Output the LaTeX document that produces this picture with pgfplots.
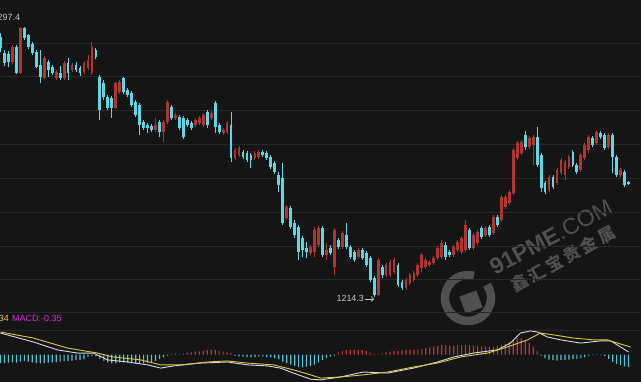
\documentclass[border=0pt]{standalone}
\usepackage{fontspec}
\setmainfont{Liberation Sans}
\newfontfamily\cjk{Noto Sans CJK SC}
\usepackage{pgfplots}
\pgfplotsset{compat=1.18}
\usepackage{pgfplotstable}
\usetikzlibrary{arrows.meta}

\definecolor{bg}{RGB}{21,21,21}
\definecolor{gridc}{RGB}{40,40,40}
\definecolor{upc}{RGB}{178,52,50}
\definecolor{dnc}{RGB}{96,214,226}
\definecolor{hup}{RGB}{190,52,52}
\definecolor{hdn}{RGB}{86,196,208}
\definecolor{difc}{RGB}{215,215,232}
\definecolor{deac}{RGB}{214,204,64}
\definecolor{macdc}{RGB}{214,40,214}
\definecolor{wm}{RGB}{80,80,80}
\definecolor{lbl}{RGB}{200,200,200}

% up (red) candles: x o h l c
\pgfplotstableread{
x o h l c
3 1286.6 1291.9 1286.0 1291.2
5 1283.2 1297.4 1282.9 1297.1
11 1281.7 1288.5 1281.4 1287.9
14 1281.7 1284.2 1281.1 1283.5
16 1281.7 1286.9 1281.1 1286.3
18 1284.2 1286.3 1283.5 1285.7
21 1283.5 1286.9 1282.9 1286.3
22 1284.8 1288.8 1284.2 1287.2
23 1283.2 1292.8 1282.6 1291.2
29 1272.5 1280.5 1272.2 1280.2
30 1277.4 1281.1 1276.8 1280.5
39 1265.7 1269.4 1265.1 1267.2
41 1265.1 1268.8 1262.0 1268.2
42 1268.2 1274.9 1267.5 1274.3
44 1269.4 1270.9 1268.8 1270.3
49 1267.2 1269.4 1266.6 1268.8
50 1267.9 1270.0 1267.2 1269.4
51 1267.2 1270.9 1266.6 1270.3
53 1269.4 1271.5 1268.8 1270.9
56 1264.8 1266.3 1264.2 1265.7
57 1265.1 1268.5 1264.5 1267.9
59 1257.1 1260.2 1256.5 1259.5
60 1258.0 1260.8 1257.4 1260.2
64 1257.1 1259.2 1256.5 1258.6
65 1257.4 1259.5 1256.8 1258.9
72 1238.6 1242.6 1238.0 1242.0
78 1227.8 1230.3 1227.2 1229.7
79 1228.1 1235.8 1226.6 1234.9
80 1230.3 1236.2 1229.7 1235.5
82 1227.2 1230.9 1225.7 1228.8
84 1223.5 1235.5 1221.1 1234.9
86 1229.7 1234.6 1229.1 1234.0
90 1226.6 1229.4 1226.0 1228.8
95 1214.9 1226.3 1214.6 1225.7
97 1221.1 1224.8 1220.4 1224.1
98 1221.1 1225.7 1220.4 1225.1
99 1222.0 1226.3 1221.4 1225.7
102 1217.1 1220.1 1216.4 1219.5
103 1218.6 1221.7 1218.0 1221.1
104 1219.5 1222.3 1218.9 1221.7
105 1221.1 1224.8 1220.4 1224.1
106 1223.2 1227.8 1222.0 1227.2
107 1223.5 1226.3 1222.9 1225.7
108 1224.1 1225.7 1223.5 1225.1
109 1224.8 1226.9 1224.1 1226.3
110 1226.3 1230.0 1225.7 1229.4
111 1226.6 1231.8 1226.0 1230.9
114 1227.2 1230.3 1226.6 1229.7
115 1228.8 1231.8 1228.1 1231.2
116 1228.1 1233.1 1227.5 1232.5
117 1228.8 1238.0 1228.1 1236.5
119 1229.4 1234.0 1228.8 1233.4
120 1230.9 1234.9 1230.3 1234.3
122 1233.4 1236.2 1232.8 1235.5
124 1234.0 1239.5 1233.4 1238.9
126 1238.0 1245.7 1237.4 1245.1
127 1242.0 1245.7 1241.4 1245.1
128 1243.2 1247.2 1242.6 1246.6
129 1246.3 1260.2 1245.7 1259.5
130 1257.1 1262.3 1256.5 1261.7
131 1258.6 1262.6 1258.0 1262.0
133 1260.5 1263.9 1259.9 1263.2
134 1261.1 1264.2 1254.9 1263.5
138 1247.2 1251.8 1246.6 1251.2
140 1249.4 1254.0 1248.8 1253.4
141 1252.5 1257.1 1251.8 1256.5
142 1251.8 1256.5 1250.3 1255.8
143 1254.3 1258.0 1253.7 1257.4
146 1253.4 1258.6 1252.8 1258.0
147 1257.1 1261.7 1256.5 1261.1
148 1259.5 1264.2 1258.6 1263.5
150 1261.7 1265.7 1261.1 1265.1
153 1260.5 1264.8 1259.9 1264.2
156 1251.8 1254.0 1251.2 1253.4
}\upT

% down (cyan) candles: x o h l c
\pgfplotstableread{
x o h l c
0 1294.3 1295.6 1289.7 1290.9
1 1289.4 1290.3 1285.4 1286.3
2 1289.1 1290.0 1285.1 1286.6
4 1291.2 1291.9 1282.9 1283.2
6 1297.1 1297.4 1293.4 1294.0
7 1294.9 1295.2 1290.6 1291.2
8 1292.2 1292.8 1288.8 1289.4
9 1289.7 1290.3 1284.8 1285.1
10 1285.7 1290.3 1280.2 1282.0
12 1286.6 1287.2 1282.0 1284.2
13 1285.1 1285.7 1282.6 1283.2
15 1283.2 1285.4 1281.1 1281.7
17 1286.3 1287.9 1281.1 1283.2
19 1285.7 1286.6 1283.5 1284.2
20 1284.8 1285.4 1282.3 1283.2
24 1290.3 1290.9 1287.6 1288.2
25 1282.0 1282.6 1268.8 1271.9
26 1280.2 1281.1 1274.9 1275.9
27 1275.9 1276.5 1271.9 1272.5
28 1275.5 1276.2 1269.4 1272.5
31 1281.7 1282.0 1276.8 1277.4
32 1278.0 1278.6 1275.9 1276.5
33 1277.1 1277.7 1272.8 1273.4
34 1274.3 1274.9 1269.7 1270.3
35 1273.4 1274.0 1264.2 1267.2
36 1268.2 1268.8 1265.7 1266.3
37 1267.2 1267.9 1264.8 1266.3
38 1266.9 1267.5 1265.1 1265.7
40 1268.2 1268.8 1263.5 1265.1
43 1272.8 1273.4 1268.8 1269.4
45 1269.7 1270.3 1265.7 1266.3
46 1269.4 1270.0 1262.9 1263.5
47 1268.8 1269.4 1266.6 1267.2
48 1267.9 1268.5 1265.7 1266.3
52 1271.2 1271.9 1266.3 1267.2
54 1274.0 1274.6 1264.8 1266.6
55 1267.2 1267.9 1264.5 1265.1
58 1267.2 1271.2 1255.9 1257.1
61 1258.9 1259.5 1256.8 1257.4
62 1258.6 1259.2 1255.9 1256.5
63 1258.0 1258.6 1254.0 1256.5
66 1258.9 1259.5 1257.4 1258.0
67 1258.6 1259.2 1256.5 1257.1
68 1257.4 1258.0 1253.7 1254.3
69 1255.5 1256.2 1252.2 1252.8
70 1251.8 1252.8 1246.6 1248.8
71 1250.9 1255.5 1236.5 1237.1
73 1241.7 1242.3 1235.2 1235.8
74 1237.1 1238.0 1232.5 1233.4
75 1235.8 1236.5 1225.7 1228.1
76 1232.5 1233.1 1226.6 1228.8
77 1229.4 1231.2 1226.3 1228.1
81 1235.5 1236.2 1226.6 1227.2
83 1229.4 1230.3 1227.2 1227.8
85 1231.8 1232.5 1229.1 1229.7
87 1233.4 1237.1 1229.1 1229.7
88 1229.7 1230.3 1226.0 1226.6
89 1228.1 1228.8 1225.1 1225.7
91 1228.8 1229.4 1225.7 1226.3
92 1227.8 1228.5 1223.5 1224.1
93 1226.3 1226.9 1218.9 1219.5
94 1220.1 1220.8 1214.3 1214.9
96 1223.5 1224.1 1220.1 1221.1
100 1224.1 1224.8 1217.4 1218.0
101 1218.9 1219.5 1216.4 1217.1
112 1230.3 1231.2 1225.7 1226.6
113 1228.1 1228.8 1226.6 1227.2
118 1234.9 1235.5 1228.8 1229.4
121 1235.5 1236.2 1232.1 1232.8
123 1235.8 1236.5 1232.8 1233.4
125 1238.9 1239.5 1235.8 1236.5
132 1264.2 1265.4 1259.5 1260.5
135 1263.5 1266.6 1254.3 1254.9
136 1258.0 1258.6 1246.6 1247.8
137 1249.4 1250.0 1246.0 1246.6
139 1251.2 1251.8 1247.5 1248.2
144 1258.9 1259.5 1254.3 1254.9
145 1254.9 1255.5 1252.2 1252.8
149 1263.2 1263.9 1260.5 1261.1
151 1264.8 1265.4 1262.9 1263.5
152 1264.2 1264.8 1259.5 1260.1
154 1264.2 1264.8 1252.5 1257.4
155 1257.4 1258.0 1251.2 1251.8
157 1252.8 1253.4 1248.2 1248.8
158 1249.7 1250.0 1248.8 1249.1
}\dnT

% MACD histogram, positive
\pgfplotstableread{
x v
43 0.02
44 0.03
45 0.02
46 0.03
47 0.05
48 0.06
49 0.08
50 0.09
51 0.10
52 0.12
53 0.14
54 0.13
55 0.11
56 0.09
57 0.06
58 0.04
85 0.06
86 0.10
87 0.12
88 0.13
89 0.14
90 0.13
91 0.12
92 0.10
93 0.05
94 0.01
95 0.02
96 0.03
97 0.06
98 0.08
99 0.10
100 0.10
101 0.11
102 0.12
103 0.12
104 0.13
105 0.14
106 0.16
107 0.18
108 0.20
109 0.22
110 0.24
111 0.26
112 0.26
113 0.25
114 0.25
115 0.26
116 0.26
117 0.27
118 0.26
119 0.25
120 0.24
121 0.23
122 0.22
123 0.21
124 0.22
125 0.24
126 0.27
127 0.30
128 0.35
129 0.42
130 0.46
131 0.45
132 0.40
133 0.32
134 0.22
135 0.10
}\histUp

% MACD histogram, negative
\pgfplotstableread{
x v
0 -0.24
1 -0.24
2 -0.23
3 -0.22
4 -0.23
5 -0.20
6 -0.18
7 -0.20
8 -0.22
9 -0.24
10 -0.25
11 -0.24
12 -0.23
13 -0.22
14 -0.21
15 -0.20
16 -0.19
17 -0.18
18 -0.17
19 -0.16
20 -0.15
21 -0.13
22 -0.06
23 -0.04
24 -0.05
25 -0.12
26 -0.18
27 -0.22
28 -0.25
29 -0.24
30 -0.22
31 -0.22
32 -0.23
33 -0.24
34 -0.25
35 -0.26
36 -0.25
37 -0.23
38 -0.21
39 -0.18
40 -0.12
41 -0.08
42 -0.03
59 -0.03
60 -0.05
61 -0.06
62 -0.07
63 -0.08
64 -0.07
65 -0.06
66 -0.06
67 -0.07
68 -0.08
69 -0.10
70 -0.13
71 -0.20
72 -0.24
73 -0.28
74 -0.32
75 -0.35
76 -0.36
77 -0.34
78 -0.32
79 -0.28
80 -0.22
81 -0.16
82 -0.10
83 -0.06
84 -0.03
136 -0.04
137 -0.10
138 -0.14
139 -0.16
140 -0.17
141 -0.16
142 -0.15
143 -0.14
144 -0.13
145 -0.12
146 -0.10
147 -0.07
148 -0.03
149 -0.02
150 -0.01
151 -0.02
152 -0.04
153 -0.12
154 -0.20
155 -0.26
156 -0.30
157 -0.33
158 -0.35
}\histDn

\pgfplotsset{kbase/.style={
  scale only axis, width=641bp,
  xmin=-0.126, xmax=161.13,
  axis line style={draw=none},
  xtick=\empty, yticklabels={}, major tick length=0pt,
  ymajorgrids, grid style={gridc, line width=1bp},
}}
\pgfplotsset{candle/.style={draw=none, mark=none, forget plot,
  error bars/.cd, y dir=minus, y explicit, error mark=none}}

\begin{document}
\begin{tikzpicture}
\useasboundingbox (0,0) rectangle (641bp,-382bp);
\fill[bg] (0,0) rectangle (641bp,-382bp);

% watermark
\draw[wm, line width=8.5bp] (468bp,-298bp) ++(75:23bp) arc[start angle=75, end angle=395, radius=23bp];
\fill[wm, rotate around={20:(471bp,-302bp)}] (462bp,-311bp) rectangle (480bp,-293bp);
\node[rotate=28, text=wm, font=\fontsize{23}{23}\selectfont, inner sep=0pt] at (551bp,-237bp) {\textbf{91PME}.COM};
\node[rotate=29, text=wm, font=\cjk\fontsize{17}{17}\selectfont\bfseries, inner sep=0pt] at (563bp,-259bp) {鑫\hspace{3bp}汇\hspace{3bp}宝\hspace{3bp}贵\hspace{3bp}金\hspace{3bp}属};

% price panel
\begin{axis}[kbase, at={(0bp,0bp)}, anchor=north west, height=305bp,
  ymin=1211.83, ymax=1305.71,
  ytick={1292.47,1282.05,1271.63,1261.21,1250.79,1240.37,1229.95,1219.53}]
% wicks
\addplot[candle, error bar style={draw=upc, line width=0.9bp}]
  table[x=x, y=h, y error expr=\thisrow{h}-\thisrow{l}] {\upT};
\addplot[candle, error bar style={draw=dnc, line width=0.9bp}]
  table[x=x, y=h, y error expr=\thisrow{h}-\thisrow{l}] {\dnT};
% bodies
\addplot[candle, error bar style={draw=upc, line width=2.8bp}]
  table[x=x, y=c, y error expr=\thisrow{c}-\thisrow{o}] {\upT};
\addplot[candle, error bar style={draw=dnc, line width=2.8bp}]
  table[x=x, y=o, y error expr=\thisrow{o}-\thisrow{c}] {\dnT};
\node[anchor=base east, inner sep=0pt, text=lbl, font=\fontsize{9}{10}\selectfont, yshift=6.5bp] at (axis cs:5,1297.4) {1297.4};
\node[anchor=base east, inner sep=0pt, text=lbl, font=\fontsize{9}{10}\selectfont, xshift=-10bp, yshift=-5bp] at (axis cs:94,1214.3) {1214.3};
\draw[lbl, line width=0.7bp, -{Straight Barb[length=2.5bp]}] ([xshift=-9bp, yshift=-2bp]axis cs:94,1214.3) -- ([xshift=0bp, yshift=-2bp]axis cs:94,1214.3);
\end{axis}

% MACD panel
\begin{axis}[kbase, at={(0bp,-305bp)}, anchor=north west, height=77bp,
  ymin=-0.77, ymax=1.386,
  ytick={1.19,0.686}]
\addplot[ybar, bar width=1.2bp, bar shift=0pt, fill=hup, draw=none, forget plot] table[x=x, y=v] {\histUp};
\addplot[ybar, bar width=1.2bp, bar shift=0pt, fill=hdn, draw=none, forget plot] table[x=x, y=v] {\histDn};
\addplot[difc, line width=0.9bp, forget plot] coordinates {
(0,0.60) (8.3,0.35) (14.3,0.13) (19.4,0.04) (23.4,0.04) (26.9,-0.15) (32,-0.21) (37,-0.29)
(40.3,-0.38) (43.5,-0.32) (50.3,-0.24) (57.1,-0.21) (62.1,-0.29) (67.2,-0.32) (70.4,-0.38)
(73.7,-0.52) (78,-0.69) (80.5,-0.71) (85.5,-0.63) (91.3,-0.49) (97.4,-0.52) (103.9,-0.38)
(109.9,-0.21) (114,-0.07) (119,0.04) (125,0.13) (128.3,0.32) (130.8,0.60) (133.3,0.66)
(135.1,0.63) (137.6,0.49) (140.9,0.41) (145.9,0.32) (150.9,0.38) (153.5,0.38) (156,0.21) (158,0.07)};
\addplot[deac, line width=0.9bp, forget plot] coordinates {
(0,0.63) (8.3,0.46) (16.9,0.18) (24.4,0.04) (28.4,-0.07) (35.2,-0.15) (40.3,-0.29) (45.3,-0.29)
(52.1,-0.21) (57.1,-0.18) (62.1,-0.24) (68.7,-0.29) (73.7,-0.43) (78,-0.57) (80.5,-0.66)
(85.5,-0.63) (91.3,-0.57) (97.4,-0.49) (103.9,-0.35) (109.9,-0.24) (115.7,-0.07) (122.5,0.04)
(127.5,0.21) (132.6,0.41) (135.8,0.60) (139.1,0.55) (144.2,0.46) (149.2,0.41) (152.7,0.41)
(155.2,0.32) (158.5,0.21)};
\end{axis}

\node[anchor=base east, inner sep=0pt, text=deac, font=\fontsize{9}{10}\selectfont] at (9bp,-321.5bp) {DEA:0.34};
\node[anchor=base west, inner sep=0pt, text=macdc, font=\fontsize{9}{10}\selectfont] at (12bp,-321.5bp) {MACD:-0.35};
\end{tikzpicture}
\end{document}
